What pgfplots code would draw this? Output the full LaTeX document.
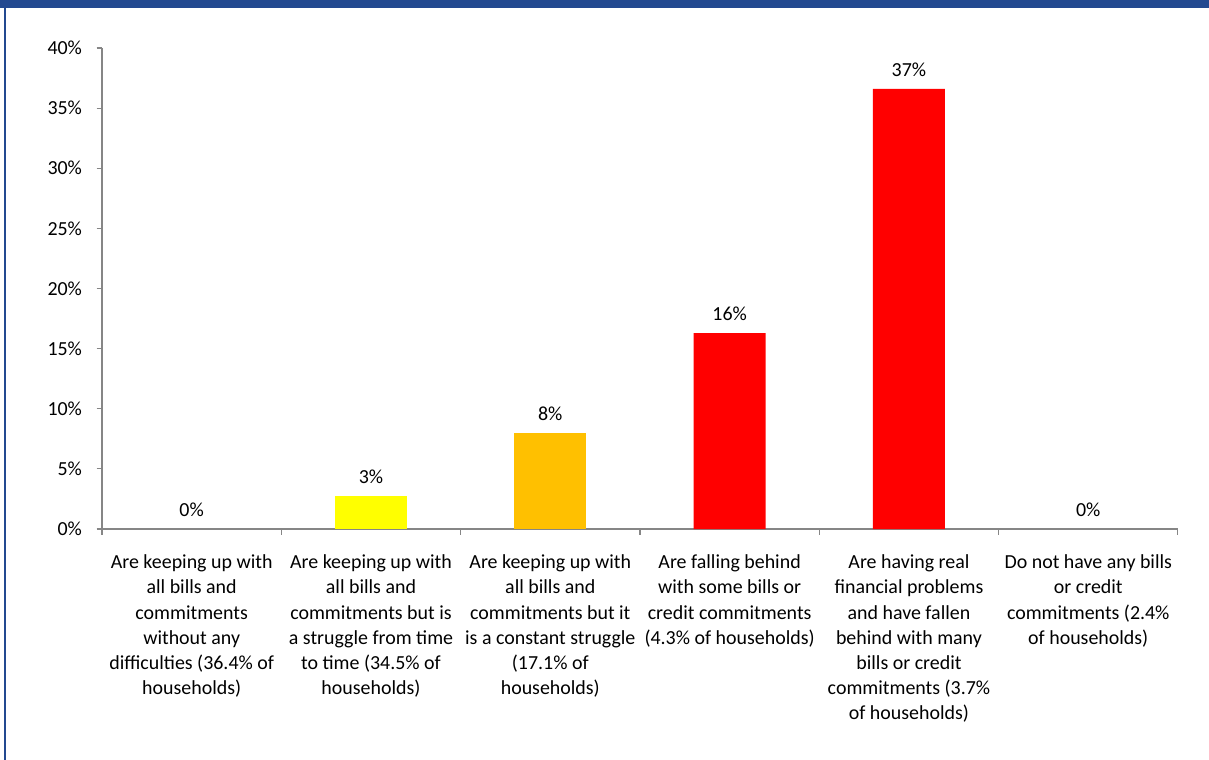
\documentclass[border=0pt]{standalone}
\usepackage{pgfplots}
\pgfplotsset{compat=1.18}
\usepackage{fontspec}
\setmainfont{Carlito}
\definecolor{bandblue}{HTML}{234990}
\definecolor{axisgray}{HTML}{868686}
\definecolor{barYellow}{HTML}{FFFF00}
\definecolor{barOrange}{HTML}{FFC000}
\definecolor{barRed}{HTML}{FF0000}
\begin{document}
\begin{tikzpicture}[x=1bp,y=1bp]
\fill[white] (0,0) rectangle (1209,-760);
\fill[bandblue] (0,0) rectangle (1209,-8);
\fill[bandblue] (3.8,-8) rectangle (6.4,-760);
\begin{axis}[
  at={(102bp,-529bp)}, anchor=south west,
  scale only axis, width=1076bp, height=481bp,
  xmin=-0.5, xmax=5.5, ymin=0, ymax=40,
  axis lines*=left,
  axis line style={axisgray, line width=1.1pt},
  every tick/.style={axisgray, line width=1.1pt},
  tick align=outside, major tick length=5.5bp,
  ytick={0,5,...,40},
  yticklabel={\pgfmathprintnumber{\tick}\%},
  xtick={-0.5,0.5,...,5.5},
  x tick label as interval,
  xticklabels={
    {Are keeping up with\\all bills and\\commitments\\without any\\difficulties (36.4\% of\\households)},
    {Are keeping up with\\all bills and\\commitments but is\\a struggle from time\\to time (34.5\% of\\households)},
    {Are keeping up with\\all bills and\\commitments but it\\is a constant struggle\\(17.1\% of\\households)},
    {Are falling behind\\with some bills or\\credit commitments\\(4.3\% of households)},
    {Are having real\\financial problems\\and have fallen\\behind with many\\bills or credit\\commitments (3.7\%\\of households)},
    {Do not have any bills\\or credit\\commitments (2.4\%\\of households)}
  },
  x tick label style={align=center, anchor=north, font=\fontsize{20}{25.2}\selectfont, yshift=-17bp},
  y tick label style={font=\fontsize{20}{23}\selectfont, xshift=-11bp},
  /pgf/number format/assume math mode=true,
  ybar, bar width=72bp, bar shift=0pt,
  nodes near coords={\pgfmathprintnumber[fixed,precision=0]{\pgfplotspointmeta}\%},
  every node near coord/.append style={font=\fontsize{20}{23}\selectfont, black, anchor=center, yshift=19bp},
  clip=false,
]
\addplot[draw=none, fill=none] coordinates {(0,0) (5,0)};
\addplot[draw=none, fill=barYellow] coordinates {(1,2.74)};
\addplot[draw=none, fill=barOrange] coordinates {(2,7.98)};
\addplot[draw=none, fill=barRed] coordinates {(3,16.3) (4,36.6)};
\end{axis}
\end{tikzpicture}
\end{document}
